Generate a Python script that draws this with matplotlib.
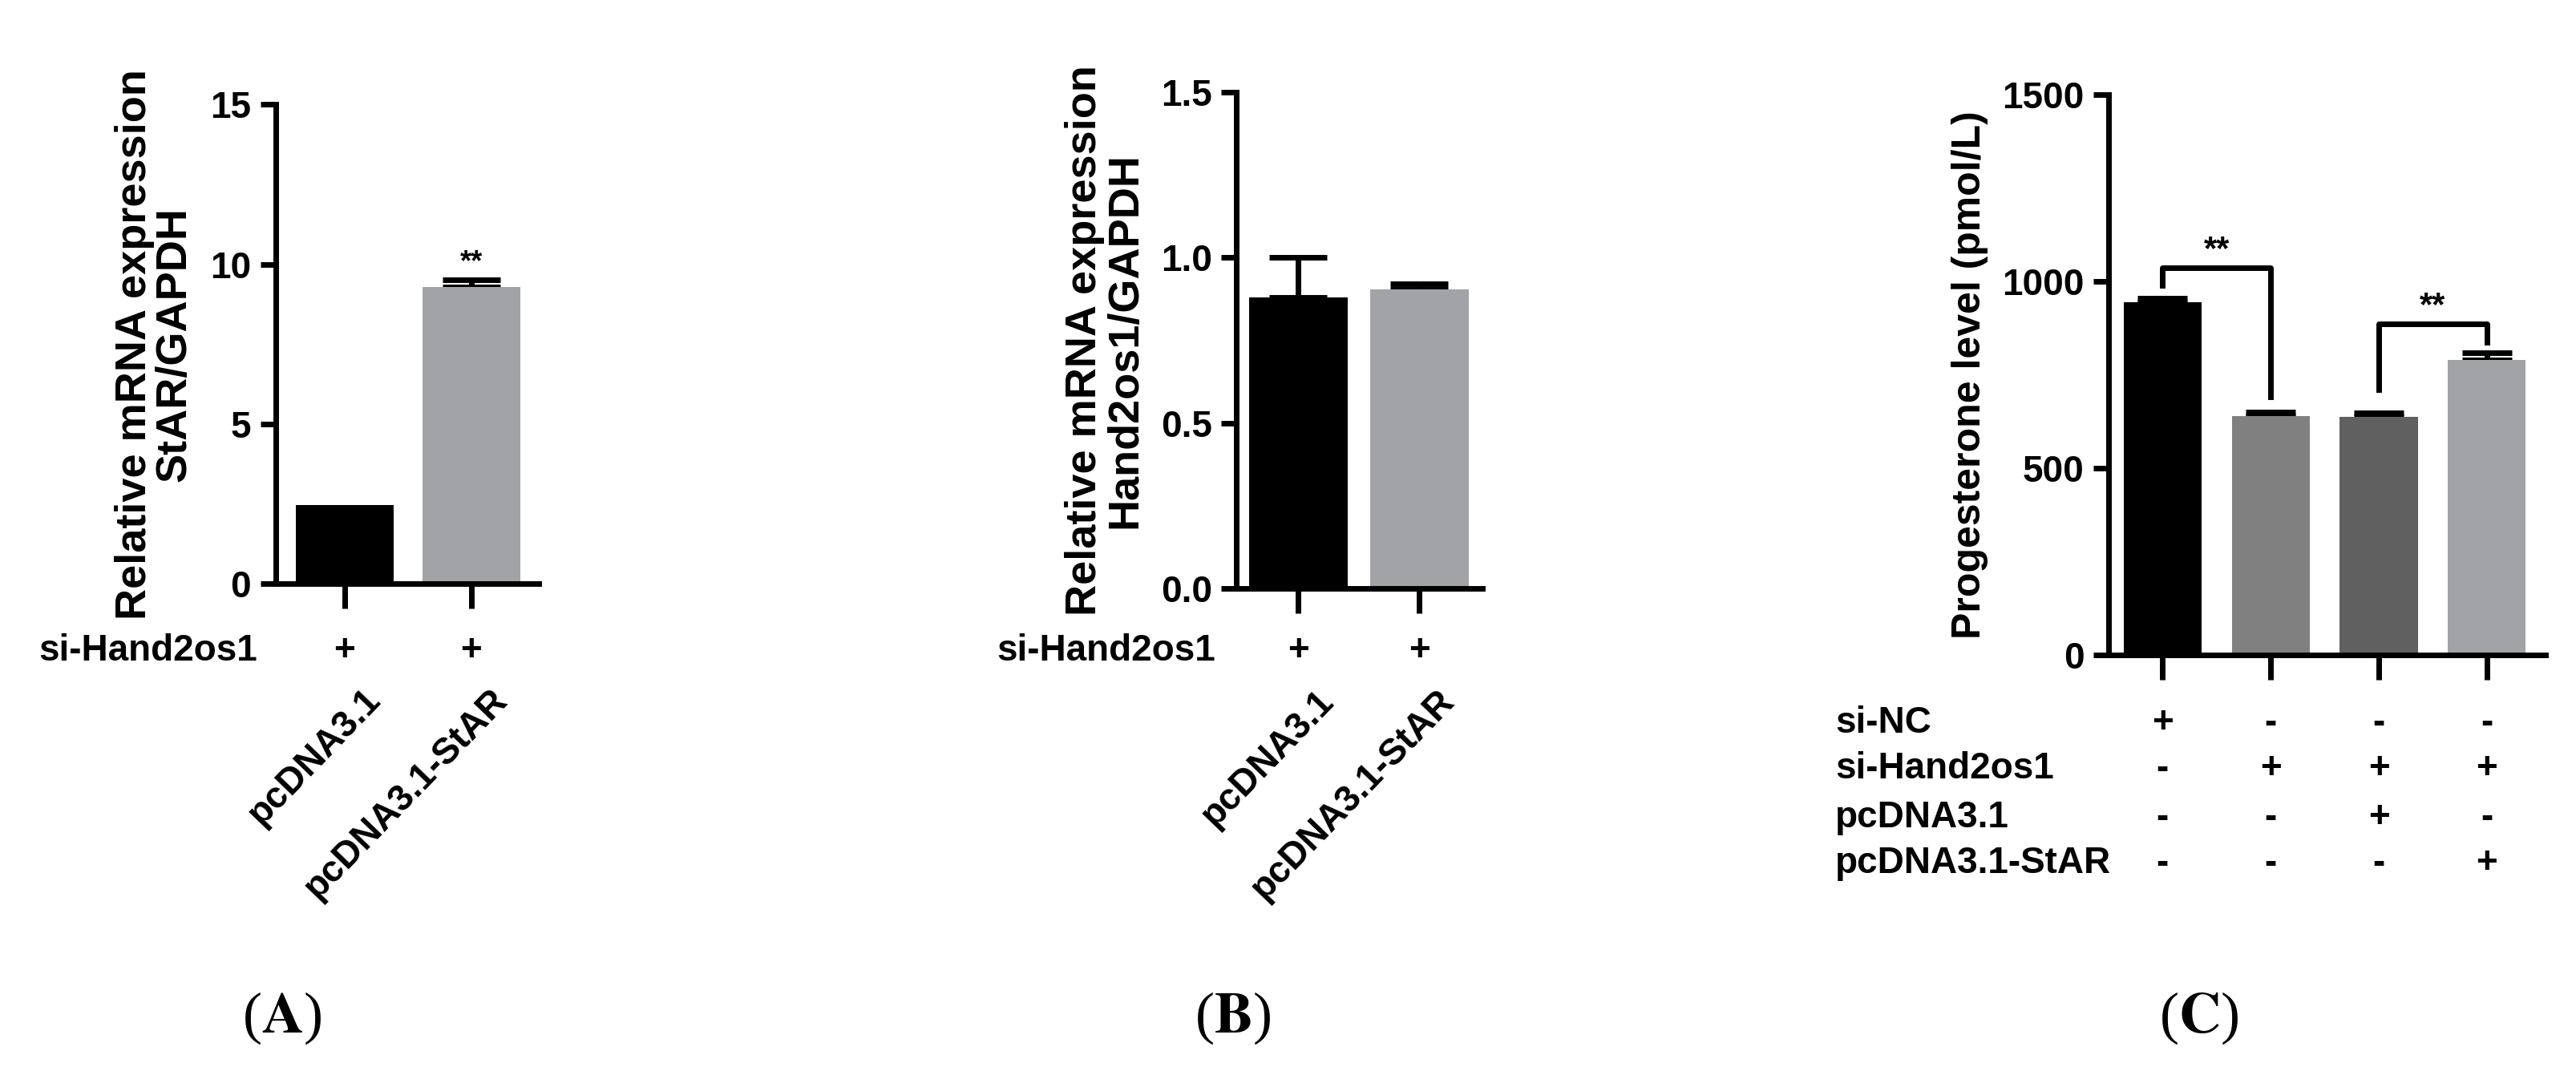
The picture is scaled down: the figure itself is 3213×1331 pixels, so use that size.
import numpy as np
import matplotlib.pyplot as plt

plt.rcParams['font.family'] = ['Liberation Sans', 'DejaVu Sans']
plt.rcParams['font.weight'] = 'bold'

# data
a_vals = [2.45, 9.3]
a_err = [0.0, 0.22]
b_vals = [0.88, 0.905]
b_err = [0.12, 0.015]
c_vals = [945, 640, 638, 790]
c_err = [10, 10, 10, 20]
ab_groups = ['pcDNA3.1', 'pcDNA3.1-StAR']
c_rows = ['si-NC', 'si-Hand2os1', 'pcDNA3.1', 'pcDNA3.1-StAR']
c_signs = [['+', '-', '-', '-'],
           ['-', '+', '+', '+'],
           ['-', '-', '+', '-'],
           ['-', '-', '-', '+']]

fig = plt.figure(figsize=(32.13, 13.31), dpi=100)
FS = 33
LW = 5


def style(ax):
    ax.spines['top'].set_visible(False)
    ax.spines['right'].set_visible(False)
    ax.spines['left'].set_linewidth(LW)
    ax.spines['bottom'].set_linewidth(LW)
    ax.tick_params(width=LW, length=14, labelsize=FS, pad=8)
    ax.tick_params(axis='x', labelbottom=False, length=22)
    for t in ax.get_yticklabels():
        t.set_fontweight('bold')


def small_panel(rect, vals, err, colors, width, xlim, ylim, yticks, yfmt, ylab, row_y, lab_x):
    ax = fig.add_axes(rect)
    x = np.arange(len(vals))
    ax.bar(x, vals, width=width, color=colors, zorder=2)
    for xi, v, e in zip(x, vals, err):
        if e > 0:
            ax.errorbar(xi, v, yerr=[[0], [e]], color='black', capsize=26, capthick=LW,
                        elinewidth=LW, zorder=1)
    ax.set_xlim(*xlim)
    ax.set_ylim(*ylim)
    ax.set_yticks(yticks)
    ax.set_yticklabels([yfmt.format(t) for t in yticks])
    ax.set_xticks(x)
    ax.set_ylabel(ylab, fontsize=39, fontweight='bold', linespacing=1.0, labelpad=14)
    style(ax)
    tr = ax.get_xaxis_transform()
    for xi in x:
        ax.text(xi, row_y, '+', transform=tr, ha='center', va='center', fontsize=FS)
        ax.text(xi + 0.14, row_y - 0.065, ab_groups[xi], transform=tr, ha='right', va='top',
                rotation=46, rotation_mode='anchor', fontsize=FS)
    fig.text(lab_x, ax.get_position().y0 + row_y * ax.get_position().height,
             'si-Hand2os1', ha='right', va='center', fontsize=FS)
    return ax


axA = small_panel([0.107, 0.453, 0.102, 0.449], a_vals, a_err, ['black', '#a2a3a7'], 0.77,
                  (-0.545, 1.53), (0, 15), [0, 5, 10, 15], '{:g}',
                  'Relative mRNA expression\nStAR/GAPDH', -0.14, 0.1)
axA.text(1, a_vals[1] + a_err[1] + 0.1, '**', ha='center', va='bottom', fontsize=26)

axB = small_panel([0.480, 0.4485, 0.0955, 0.465], b_vals, b_err, ['black', '#a2a3a7'], 0.81,
                  (-0.51, 1.52), (0, 1.5), [0.0, 0.5, 1.0, 1.5], '{:.1f}',
                  'Relative mRNA expression\nHand2os1/GAPDH', -0.126, 0.472)

# panel C
axC = fig.add_axes([0.8185, 0.386, 0.1696, 0.525])
xc = np.arange(len(c_vals))
axC.bar(xc, c_vals, width=0.72, color=['black', '#808080', '#606060', '#a2a3a7'], zorder=2)
for xi, v, e in zip(xc, c_vals, c_err):
    axC.errorbar(xi, v, yerr=[[0], [e]], color='black', capsize=22, capthick=LW,
                 elinewidth=LW, zorder=1)
axC.set_xlim(-0.5, 3.54)
axC.set_ylim(0, 1500)
axC.set_yticks([0, 500, 1000, 1500])
axC.set_xticks(xc)
axC.set_ylabel('Progesterone level (pmol/L)', fontsize=36, fontweight='bold', labelpad=12)
style(axC)

# significance brackets
for x0, x1, top, l0, l1 in [(0, 1, 1037, 991, 692), (2, 3, 886, 710, 837)]:
    axC.plot([x0, x0, x1, x1], [l0, top, top, l1], color='black', lw=LW, zorder=3)
    axC.text((x0 + x1) / 2, top + 5, '**', ha='center', va='bottom', fontsize=30)

trC = axC.get_xaxis_transform()
row_ys = [-0.122, -0.203, -0.290, -0.372]
pos = axC.get_position()
for r, (name, signs) in enumerate(zip(c_rows, c_signs)):
    fig.text(0.7125, pos.y0 + row_ys[r] * pos.height, name, ha='left', va='center', fontsize=FS)
    for xi, s in enumerate(signs):
        axC.text(xi, row_ys[r], s, transform=trC, ha='center', va='center', fontsize=FS)

# panel letters
for px, letter in [(0.1095, 'A'), (0.4785, 'B'), (0.8535, 'C')]:
    fig.text(px, 0.046, '(' + r'$\mathbf{' + letter + '}$' + ')', ha='center', va='center',
             fontsize=52, fontweight='normal', family='Liberation Serif',
             math_fontfamily='stix')

fig.savefig('out.png', dpi=100)
